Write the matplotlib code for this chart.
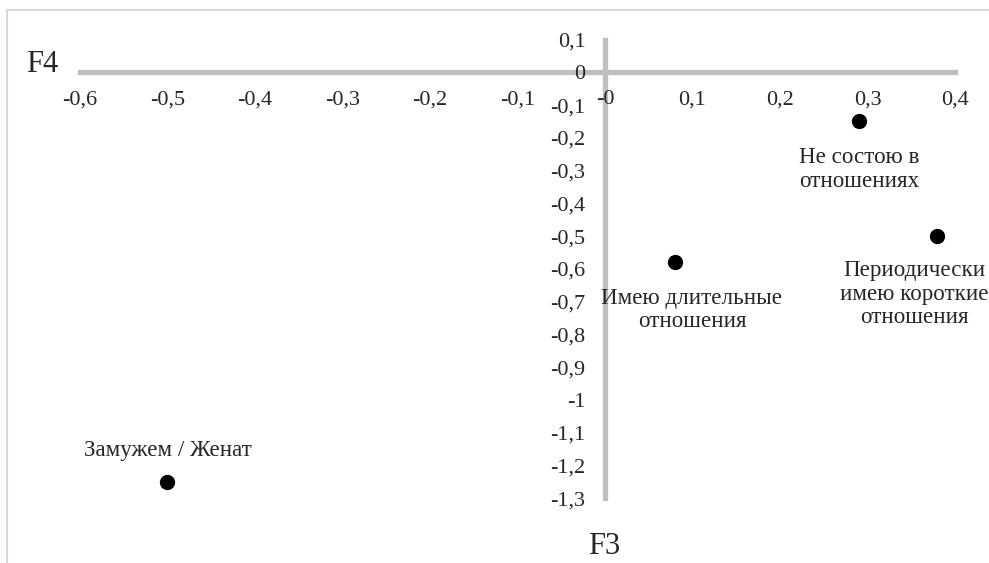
import numpy as np
import matplotlib
matplotlib.use("Agg")
import matplotlib.pyplot as plt
from matplotlib.patches import Rectangle
from matplotlib.ticker import FuncFormatter

# relationship status categories on the F3 / F4 factor plane
labels = ["Не состою в\nотношениях", "Периодически\nимею короткие\nотношения",
          "Имею длительные\nотношения", "Замужем / Женат"]
f3 = [0.29, 0.38, 0.08, -0.50]
f4 = [-0.15, -0.50, -0.58, -1.25]
# label offsets from each dot, in pixels
offsets = [(0, -48), (-23, -58), (17, -48), (0, 31)]

xticks = np.round(np.arange(-0.6, 0.41, 0.1), 1)
yticks = np.round(np.arange(-1.3, 0.11, 0.1), 1)

plt.rcParams["font.family"] = ["Liberation Serif", "DejaVu Serif"]
AXC = "#BFBFBF"
TXT = "#262626"

W, H = 989, 563
fig = plt.figure(figsize=(W / 100, H / 100), dpi=100)
ax = fig.add_axes([0, 0, 1, 1])

# pixel mapping: x 0 at px 605, 0.1 per 87.5px; y 0 at px 72.3, 0.1 per 32.75px
x0, sx = 605.0, 875.0
y0, sy = 72.3, 327.5
ax.set_xlim(-x0 / sx, (W - x0) / sx)
ax.set_ylim(-(H - y0) / sy, y0 / sy)

ax.scatter(f3, f4, s=100, c="black", zorder=5)
for x, y, t, (dx, dy) in zip(f3, f4, labels, offsets):
    ax.annotate(t, (x, y), xytext=(dx, dy), textcoords="offset pixels",
                ha="center", va="center", fontsize=16.6, color=TXT, linespacing=1.15)

for s in ("top", "right"):
    ax.spines[s].set_visible(False)
ax.spines["bottom"].set_position(("data", 0))
ax.spines["left"].set_position(("data", 0))
ax.spines["bottom"].set_bounds(xticks[0], xticks[-1])
ax.spines["left"].set_bounds(yticks[0], yticks[-1])
for s in ("bottom", "left"):
    ax.spines[s].set_color(AXC)
    ax.spines[s].set_linewidth(3.8)
    ax.spines[s].set_zorder(1)

fmt = FuncFormatter(lambda v, _: f"{v:g}".replace(".", ","))
ax.set_xticks(xticks)
ax.set_yticks(yticks)
ax.xaxis.set_major_formatter(fmt)
ax.yaxis.set_major_formatter(fmt)
ax.tick_params(axis="x", length=0, pad=13, labelsize=16, labelcolor=TXT)
ax.tick_params(axis="y", length=0, pad=14, labelsize=16, labelcolor=TXT)
ax.patch.set_alpha(0)

fig.text(42 / W, 1 - 65 / H, "F4", ha="center", va="center", fontsize=22, color=TXT)
fig.text(604 / W, 1 - 547 / H, "F3", ha="center", va="center", fontsize=22, color=TXT)

fig.patches.append(Rectangle((7 / W, -0.1), 1.2, 1.1 - 10 / H, transform=fig.transFigure,
                             fill=False, edgecolor="#D9D9D9", lw=1.5, zorder=0))

fig.savefig("out.png", facecolor="white")
